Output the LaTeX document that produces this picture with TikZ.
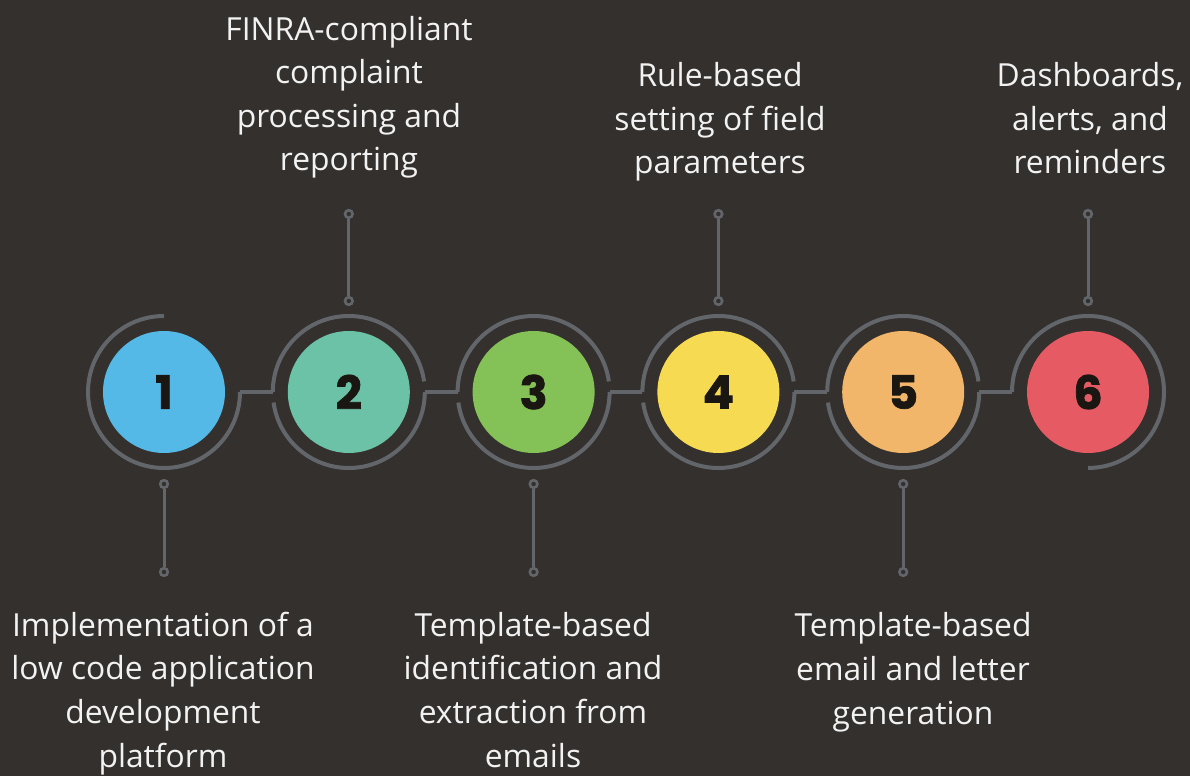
\documentclass[tikz,border=0pt]{standalone}
\usepackage{fontspec}
\setmainfont{Open Sans}
\newfontfamily\numfont[BoldFeatures={FakeBold=1.6}]{Poppins}
\definecolor{bg}{RGB}{51,48,45}
\definecolor{ringc}{RGB}{98,102,106}
\definecolor{txt}{RGB}{242,242,242}
\definecolor{numc}{RGB}{26,22,18}
\definecolor{cA}{RGB}{85,185,232}
\definecolor{cB}{RGB}{108,194,166}
\definecolor{cC}{RGB}{132,193,86}
\definecolor{cD}{RGB}{246,218,82}
\definecolor{cE}{RGB}{242,182,106}
\definecolor{cF}{RGB}{230,91,99}
\begin{document}
\begin{tikzpicture}[x=1pt,y=1pt,
  disc/.style={circle,inner sep=0pt,minimum size=122pt,text=numc,font=\numfont\bfseries\fontsize{46}{46}\selectfont},
  ring/.style={draw=ringc,line width=4pt},
  stem/.style={draw=ringc,line width=3pt},
  dot/.style={circle,draw=ringc,fill=bg,line width=2.6pt,inner sep=0pt,minimum size=7.6pt},
  lbl/.style={align=center,text=txt,inner sep=0pt,anchor=base,font=\fontsize{31.8}{43.6}\selectfont}]
\fill[bg] (0,0) rectangle (1190,776);
\useasboundingbox (0,0) rectangle (1190,776);
% discs
\node[disc,fill=cA] (n1) at (164,384) {1};
\node[disc,fill=cB] (n2) at (348.8,384) {2};
\node[disc,fill=cC] (n3) at (533.6,384) {3};
\node[disc,fill=cD] (n4) at (718.4,384) {4};
\node[disc,fill=cE] (n5) at (903.2,384) {5};
\node[disc,fill=cF] (n6) at (1088,384) {6};
% rings
\draw[ring] (n1.center) ++(90:76) arc[start angle=90,end angle=360,radius=76];
\foreach \i in {2,3,4,5}{
  \draw[ring] (n\i.center) ++(180:76) arc[start angle=180,end angle=8,radius=76];
  \draw[ring] (n\i.center) ++(188:76) arc[start angle=188,end angle=360,radius=76];
}
\draw[ring] (n6.center) ++(180:76) arc[start angle=180,end angle=-90,radius=76];
% connectors
\foreach \i/\j in {1/2,2/3,3/4,4/5,5/6}{
  \draw[ring] ([xshift=76pt]n\i.center) -- ([xshift=-76pt]n\j.center);
}
% stems below (1,3,5)
\foreach \i in {1,3,5}{
  \node[dot] (s\i a) at ([yshift=-92pt]n\i.center) {};
  \node[dot] (s\i b) at ([yshift=-180pt]n\i.center) {};
  \draw[stem] (s\i a) -- (s\i b);
}
% stems above (2,4,6)
\foreach \i in {2,4,6}{
  \node[dot] (s\i a) at ([yshift=91pt]n\i.center) {};
  \node[dot] (s\i b) at ([yshift=178pt]n\i.center) {};
  \draw[stem] (s\i a) -- (s\i b);
}
% labels (anchor = baseline of last line)
\node[lbl] (t1) at (163,9) {Implementation of a\\low code application\\development\\platform};
\node[lbl] (t2) at (349,605) {FINRA-compliant\\complaint\\processing and\\reporting};
\node[lbl] (t3) at (533,9) {Template-based\\identification and\\extraction from\\emails};
\node[lbl] (t4) at (720,602) {Rule-based\\setting of field\\parameters};
\node[lbl] (t5) at (913,52) {Template-based\\email and letter\\generation};
\node[lbl] (t6) at (1090,602) {Dashboards,\\alerts, and\\reminders};
\end{tikzpicture}
\end{document}
